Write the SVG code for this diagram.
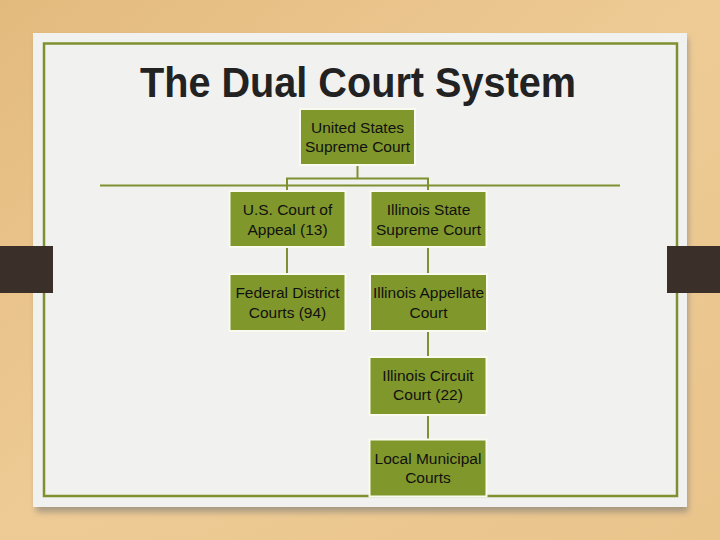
<svg xmlns="http://www.w3.org/2000/svg" width="720" height="540" viewBox="0 0 720 540">
<defs>
<linearGradient id="wood" x1="0" y1="0" x2="1" y2="1">
<stop offset="0" stop-color="#E3BA7E"/>
<stop offset="0.5" stop-color="#EECB95"/>
<stop offset="1" stop-color="#E9C48B"/>
</linearGradient>
<filter id="sh" x="-5%" y="-5%" width="110%" height="115%">
<feGaussianBlur stdDeviation="3"/>
</filter>
<style>
.box{fill:#80972B;stroke:#FAFAF0;stroke-width:2}
.t{font-family:"Liberation Sans",Arial,sans-serif;font-size:15.5px;fill:#111;text-anchor:middle}
.ln{stroke:#7E9030;stroke-width:2;fill:none}
</style>
</defs>
<rect width="720" height="540" fill="url(#wood)"/>
<rect x="36" y="38" width="652" height="474" fill="#777" opacity="0.6" filter="url(#sh)"/>
<rect x="33" y="33" width="654" height="474" fill="#F1F1F0"/>
<rect x="44" y="43.5" width="633" height="452.5" fill="none" stroke="#7E9030" stroke-width="2.5"/>
<rect x="0" y="246" width="53" height="47" fill="#3A3029"/>
<rect x="667" y="246" width="53" height="47" fill="#3A3029"/>
<text x="358" y="97" style="font-family:'Liberation Sans',Arial,sans-serif;font-weight:bold;font-size:42px" fill="#222" text-anchor="middle" textLength="436" lengthAdjust="spacingAndGlyphs">The Dual Court System</text>
<g id="connectors">
<line class="ln" x1="100" y1="185.5" x2="620" y2="185.5" stroke-width="1.8"/>
<path class="ln" d="M357.5 165V178.5M287 191V178.5H428V191"/>
<line class="ln" x1="287" y1="247" x2="287" y2="274"/>
<line class="ln" x1="428" y1="247" x2="428" y2="274"/>
<line class="ln" x1="428" y1="331" x2="428" y2="357"/>
<line class="ln" x1="428" y1="415" x2="428" y2="439"/>
</g>
<g id="us-supreme">
<rect class="box" x="300" y="109" width="115" height="56"/>
<text class="t" x="357.5" y="133">United States</text>
<text class="t" x="357.5" y="152">Supreme Court</text>
</g>
<g id="us-appeal">
<rect class="box" x="229.5" y="191" width="116" height="56"/>
<text class="t" x="287.5" y="215">U.S. Court of</text>
<text class="t" x="287.5" y="235">Appeal (13)</text>
</g>
<g id="il-supreme">
<rect class="box" x="370.5" y="191" width="116" height="56"/>
<text class="t" x="428.5" y="215">Illinois State</text>
<text class="t" x="428.5" y="235">Supreme Court</text>
</g>
<g id="fed-district">
<rect class="box" x="229.5" y="274" width="116" height="57"/>
<text class="t" x="287.5" y="298">Federal District</text>
<text class="t" x="287.5" y="318">Courts (94)</text>
</g>
<g id="il-appellate">
<rect class="box" x="370" y="274" width="117" height="57"/>
<text class="t" x="428.5" y="298">Illinois Appellate</text>
<text class="t" x="428.5" y="318">Court</text>
</g>
<g id="il-circuit">
<rect class="box" x="369.5" y="357" width="117" height="58"/>
<text class="t" x="428" y="381">Illinois Circuit</text>
<text class="t" x="428" y="400">Court (22)</text>
</g>
<g id="local-municipal">
<rect class="box" x="369.5" y="439.5" width="117" height="57"/>
<text class="t" x="428" y="464">Local Municipal</text>
<text class="t" x="428" y="483">Courts</text>
</g>
</svg>
